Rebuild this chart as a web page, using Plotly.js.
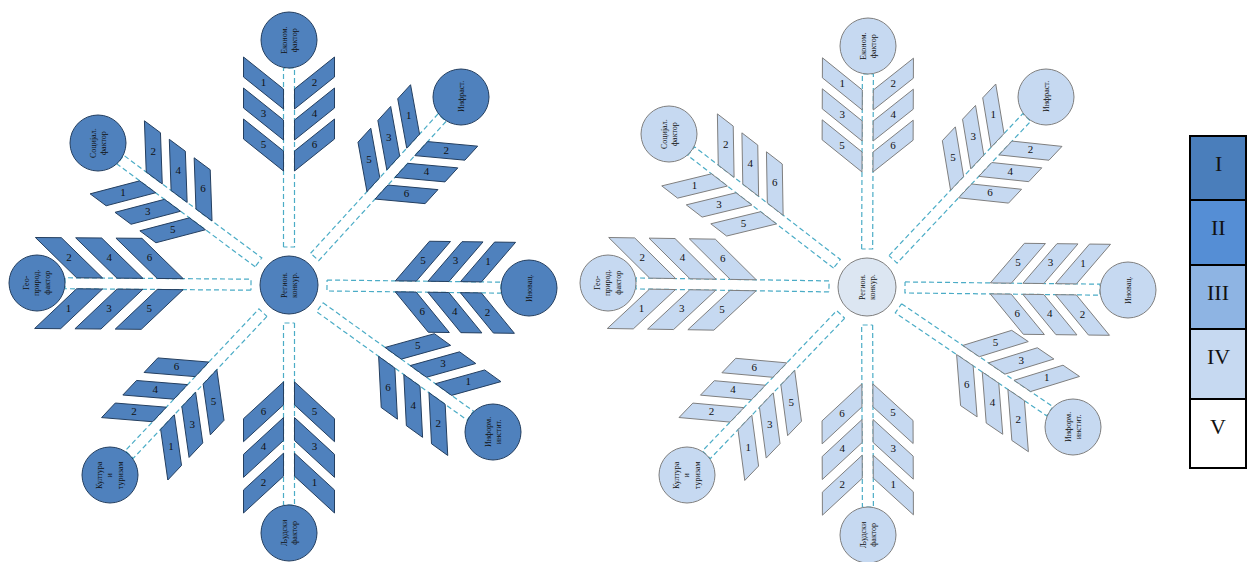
<!DOCTYPE html>
<html>
<head>
<meta charset="utf-8">
<script src="https://cdn.plot.ly/plotly-3.0.1.min.js"></script>
<style>
body { margin: 0; background: #fff; }
#chart { width: 1247px; height: 562px; }
</style>
</head>
<body>
<div id="chart"></div>
<script>
// end circles, clockwise from the top
const factorLabels = [
    'Економ.<br>фактор',
    'Инфраст.',
    'Иновац.',
    'Информ.<br>инстит.',
    'Људски<br>фактор',
    'Култура<br>и<br>туризам',
    'Гео-<br>природ.<br>фактор',
    'Социјал.<br>фактор'
];
const centerLabel = 'Регион.<br>конкур.';
const oddNumbers = [1, 3, 5];
const evenNumbers = [2, 4, 6];

const gradeLabels = ['I', 'II', 'III', 'IV', 'V'];
const gradeColors = ['#4a7ebb', '#558ed5', '#8eb4e3', '#c6d9f1', '#ffffff'];

// look of the two snowflakes
const flakeFill = ['#4f81bd', '#c6d9f1'];
const flakeCenterFill = ['#4f81bd', '#dce6f2'];
const flakeLine = ['#243f60', '#7f7f7f'];

// layout (pixels)
const flakes = [
    {cx: 289, cy: 285, ends: [[0, -245], [172, -188], [240, 3], [204, 147], [0, 248], [-179, 190], [-252, -2], [-191, -142]],
     gaps: [17, 25, 14, 23, 20, 36, -2, 24]},
    {cx: 867, cy: 287, ends: [[1, -241], [179, -190], [261, 3], [206, 140], [1, 248], [-180, 188], [-259, -4], [-198, -153]],
     gaps: [12, 25, 18, 23, 20, 36, 0, 26]}
];
const armScale = [1, 0.95, 1.05, 1, 1.15, 1, 1.3, 1];
const legendX = [1190, 1246];
const legendEdges = [136, 200, 265, 329, 399, 468];

const W = 40, H = 20, P = 31, D = 32, HALF = 5.5, RC = 29, RE = 28, GAP = 9;
const serif = 'Liberation Serif, Times New Roman, serif';

function pt(f, u, n, s, t) {
    return [f.cx + s * u[0] + t * n[0], f.cy + s * u[1] + t * n[1]];
}

const traces = [];
const shapes = [];
const annotations = [];
const numX = [], numY = [], numT = [];

flakes.forEach(function (f, fi) {
    f.ends.forEach(function (e, ai) {
        let L = Math.hypot(e[0], e[1]);
        let u = [e[0] / L, e[1] / L];
        let n = [u[1], -u[0]];

        // dashed stem
        let s0 = RC + GAP, s1 = L - RE;
        let stem = [[s0, HALF], [s1, HALF], [s1, -HALF], [s0, -HALF], [s0, HALF]].map(q => pt(f, u, n, q[0], q[1]));
        traces.push({
            x: stem.map(q => q[0]), y: stem.map(q => q[1]),
            mode: 'lines', line: {color: '#4bacc6', width: 1.2, dash: '5px,3px'},
            hoverinfo: 'skip', showlegend: false
        });

        // feathers
        let k = armScale[ai];
        let h = H * k, p = P * k, d = D * k;
        let sEnd = L - f.gaps[ai];
        [1, -1].forEach(function (side) {
            let nums = side === 1 ? oddNumbers : evenNumbers;
            nums.forEach(function (num, j) {
                let a = sEnd - d - h - j * p;
                let t0 = side * HALF, t1 = side * (HALF + W);
                let poly = [[a, t0], [a + h, t0], [a + h + d, t1], [a + d, t1], [a, t0]].map(q => pt(f, u, n, q[0], q[1]));
                traces.push({
                    x: poly.map(q => q[0]), y: poly.map(q => q[1]),
                    mode: 'lines', fill: 'toself', fillcolor: flakeFill[fi],
                    line: {color: flakeLine[fi], width: 1},
                    hoverinfo: 'skip', showlegend: false
                });
                let c = pt(f, u, n, a + h / 2 + d / 2, side * (HALF + W / 2));
                numX.push(c[0]); numY.push(c[1]); numT.push(String(num));
            });
        });

        // end circle
        let ex = f.cx + e[0], ey = f.cy + e[1];
        shapes.push({
            type: 'circle', xref: 'x', yref: 'y',
            x0: ex - RE, x1: ex + RE, y0: ey - RE, y1: ey + RE,
            fillcolor: flakeFill[fi], line: {color: flakeLine[fi], width: 1}
        });
        annotations.push({
            x: ex, y: ey, xref: 'x', yref: 'y', text: factorLabels[ai], textangle: -90,
            showarrow: false, font: {family: serif, size: 8, color: '#111'}
        });
    });

    // centre circle
    shapes.push({
        type: 'circle', xref: 'x', yref: 'y',
        x0: f.cx - RC, x1: f.cx + RC, y0: f.cy - RC, y1: f.cy + RC,
        fillcolor: flakeCenterFill[fi], line: {color: flakeLine[fi], width: 1}
    });
    annotations.push({
        x: f.cx, y: f.cy, xref: 'x', yref: 'y', text: centerLabel, textangle: -90,
        showarrow: false, font: {family: serif, size: 8, color: '#111'}
    });
});

traces.push({
    x: numX, y: numY, text: numT, mode: 'text',
    textfont: {family: serif, size: 11, color: '#111'},
    hoverinfo: 'skip', showlegend: false
});

// grade legend
gradeLabels.forEach(function (g, i) {
    shapes.push({
        type: 'rect', xref: 'x', yref: 'y',
        x0: legendX[0], x1: legendX[1], y0: legendEdges[i], y1: legendEdges[i + 1],
        fillcolor: gradeColors[i], line: {color: '#000', width: 2}
    });
    annotations.push({
        x: (legendX[0] + legendX[1]) / 2, y: legendEdges[i] + 27, xref: 'x', yref: 'y',
        text: g, showarrow: false, font: {family: serif, size: 22, color: '#111'}
    });
});

const layout = {
    width: 1247, height: 562,
    margin: {l: 0, r: 0, t: 0, b: 0},
    xaxis: {range: [0, 1247], visible: false, fixedrange: true},
    yaxis: {range: [562, 0], visible: false, fixedrange: true},
    plot_bgcolor: '#fff', paper_bgcolor: '#fff',
    showlegend: false,
    shapes: shapes,
    annotations: annotations
};

Plotly.newPlot('chart', traces, layout, {staticPlot: true});
</script>
</body>
</html>
